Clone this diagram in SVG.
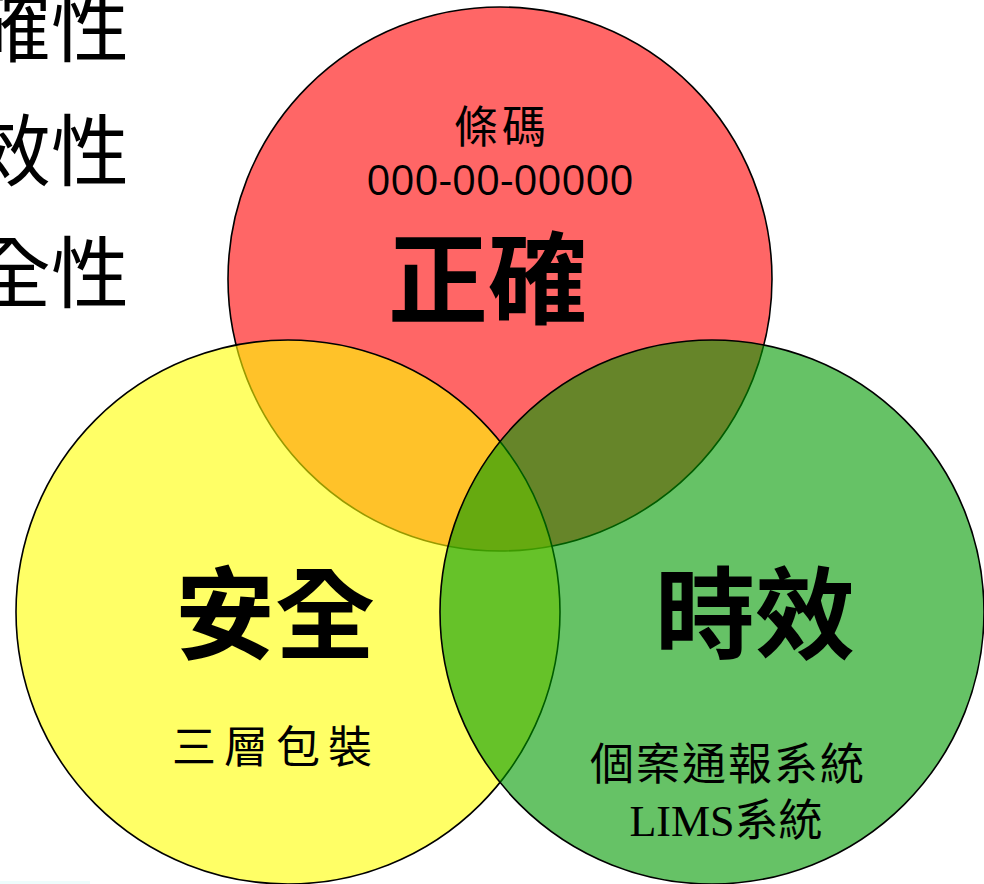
<svg xmlns="http://www.w3.org/2000/svg" width="984" height="884" viewBox="0 0 984 884">
<style>
.c{stroke:#000;stroke-width:1.6;fill-opacity:0.6}
.side{font-family:"Noto Sans CJK TC","Noto Sans CJK SC",sans-serif;font-size:78px;fill:#000;text-anchor:end}
.big{font-family:"Noto Sans CJK TC","Noto Sans CJK SC",sans-serif;font-size:100px;font-weight:bold;fill:#000;text-anchor:middle}
.kai{font-family:"Liberation Serif","Noto Sans CJK TC",serif;font-size:44px;fill:#000;text-anchor:middle}
.num{font-family:"Open Sans","Liberation Sans",sans-serif;font-size:42px;fill:#000;text-anchor:middle}
</style>
<rect width="984" height="884" fill="#fff"/>
<rect x="0" y="881" width="90" height="3" fill="#eefcfc"/>
<g id="side-text">
<text class="side" x="129" y="56">確性</text>
<text class="side" x="129" y="180">效性</text>
<text class="side" x="129" y="302">全性</text>
</g>
<g id="accuracy">
<circle class="c" cx="500" cy="279" r="272" fill="#ff0000"/>
</g>
<g id="safety">
<circle class="c" cx="288" cy="612" r="272" fill="#ffff00"/>
</g>
<g id="timeliness">
<circle class="c" cx="712" cy="612" r="272" fill="#009900"/>
</g>
<g id="labels">
<text class="kai" x="502" y="143" font-size="42" letter-spacing="4">條碼</text>
<text class="num" x="500" y="195">000-00-00000</text>
<text class="big" x="488" y="316">正確</text>
<text class="big" x="275" y="651">安全</text>
<text class="big" x="755" y="651">時效</text>
<text class="kai" x="276" y="763" font-size="40" letter-spacing="8">三層包裝</text>
<text class="kai" x="728" y="780" font-size="46" letter-spacing="2">個案通報系統</text>
<text class="kai" x="726" y="836" font-size="46">LIMS系統</text>
</g>
</svg>
